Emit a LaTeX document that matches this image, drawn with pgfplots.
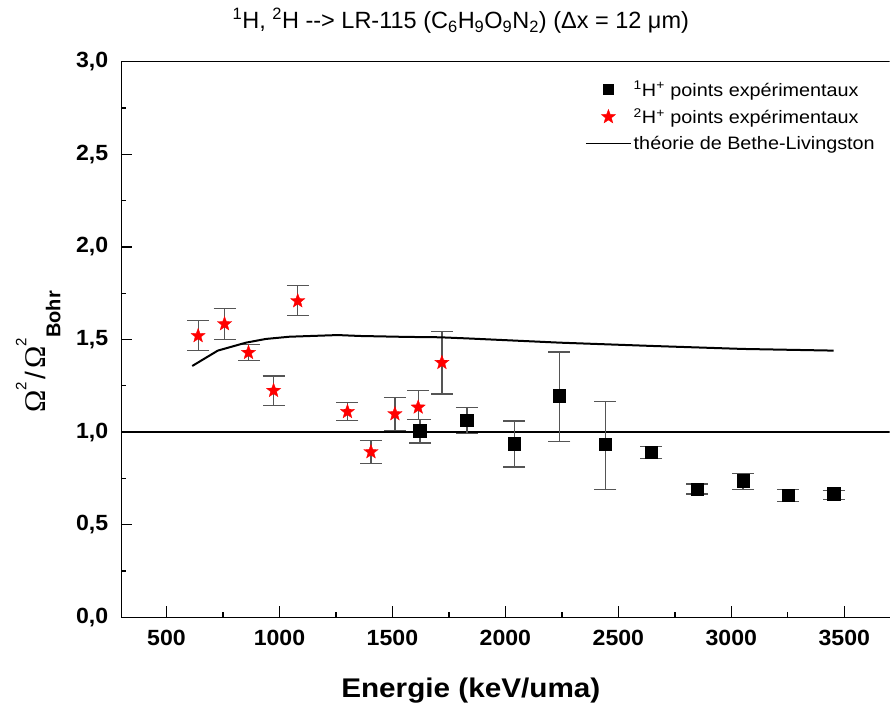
\documentclass[border=0pt]{standalone}
\usepackage{pgfplots}
\pgfplotsset{compat=1.18}
\usepackage{pgfplotstable}
\usepackage{fontspec}
\setmainfont{Liberation Sans}
\newfontfamily\omegafont{Liberation Serif}

\pgfplotstableread{
x y ep em
1622 1.008 0.061 0.067
1830 1.065 0.067 0.072
2039 0.939 0.121 0.127
2239 1.195 0.237 0.245
2442 0.934 0.230 0.243
2645 0.891 0.032 0.033
2849 0.691 0.029 0.025
3052 0.738 0.037 0.047
3251 0.659 0.032 0.035
3453 0.666 0.020 0.031
}\protons

\pgfplotstableread{
x y ep em
640 1.520 0.084 0.080
757 1.584 0.082 0.085
863 1.429 0.043 0.041
974 1.224 0.079 0.081
1081 1.708 0.082 0.077
1301 1.110 0.049 0.046
1405 0.893 0.063 0.061
1511 1.098 0.088 0.090
1614 1.134 0.092 0.065
1719 1.375 0.167 0.169
}\deutons

\pgfplotstableread{
x y
614 1.357
727 1.440
852 1.483
940 1.503
1044 1.515
1258 1.524
1357 1.519
1563 1.514
1709 1.512
1829 1.506
2240 1.483
2653 1.465
3052 1.449
3453 1.440
}\theory

\definecolor{errgray}{RGB}{85,85,85}

\pgfdeclareplotmark{fstar}{%
  \pgfpathmoveto{\pgfqpointpolar{90}{\pgfplotmarksize}}%
  \pgfpathlineto{\pgfqpointpolar{126}{0.42\pgfplotmarksize}}%
  \pgfpathlineto{\pgfqpointpolar{162}{\pgfplotmarksize}}%
  \pgfpathlineto{\pgfqpointpolar{198}{0.42\pgfplotmarksize}}%
  \pgfpathlineto{\pgfqpointpolar{234}{\pgfplotmarksize}}%
  \pgfpathlineto{\pgfqpointpolar{270}{0.42\pgfplotmarksize}}%
  \pgfpathlineto{\pgfqpointpolar{306}{\pgfplotmarksize}}%
  \pgfpathlineto{\pgfqpointpolar{342}{0.42\pgfplotmarksize}}%
  \pgfpathlineto{\pgfqpointpolar{18}{\pgfplotmarksize}}%
  \pgfpathlineto{\pgfqpointpolar{54}{0.42\pgfplotmarksize}}%
  \pgfpathclose
  \pgfusepathqfillstroke
}

\pgfplotsset{
  marklegend/.style={legend image code/.code={\draw[mark repeat=2,mark phase=2,##1] plot coordinates {(0pt,0pt) (22.5pt,0pt) (45pt,0pt)};}},
  sqlegend/.style={legend image code/.code={\draw[mark repeat=2,mark phase=2,##1, mark size=5pt] plot coordinates {(0pt,0pt) (22.5pt,0pt) (45pt,0pt)};}},
  linelegend/.style={legend image code/.code={\draw[##1, line width=1.2pt] (0pt,0pt) -- (45pt,0pt);}},
}

\newcommand{\Om}{{\omegafont\fontsize{30}{34}\selectfont Ω}}
\newcommand{\supt}{\raisebox{19pt}{\fontsize{15}{17}\selectfont 2}}

\begin{document}
\begin{tikzpicture}
\begin{axis}[
  scale only axis,
  width=768.2pt, height=555.6pt,
  xmin=300, xmax=3700, ymin=0, ymax=3,
  axis x line*=bottom, axis y line*=left,
  axis line style={line width=1.5pt},
  tick align=inside,
  major tick length=11pt, minor tick length=5pt,
  every tick/.style={black, line width=1.3pt},
  xtick={500,1000,...,3500},
  ytick={0,0.5,...,3},
  minor x tick num=1, minor y tick num=1,
  tick label style={font=\bfseries\fontsize{22}{25}\selectfont, xscale=1.05},
  /pgf/number format/assume math mode=true,
  x tick label style={/pgf/number format/1000 sep={}, yshift=-9pt},
  y tick label style={/pgf/number format/.cd, use comma, fixed, fixed zerofill, precision=1, /tikz/xshift=-9pt},
  xlabel={Energie (keV/uma)},
  xlabel style={font=\bfseries\fontsize{27}{30}\selectfont, xscale=1.1, at={(axis description cs:0.455,0)}, anchor=base, yshift=-80pt},
  ylabel={\Om\supt\hspace{3pt}{\fontsize{28}{30}\selectfont /}\hspace{3pt}\Om\supt\raisebox{-15pt}{\fontsize{20}{22}\selectfont\bfseries Bohr}},
  ylabel style={at={(axis description cs:-0.0989,0.4775)}, anchor=base},
  title={\textsuperscript{1}H, \textsuperscript{2}H -{}-{}> LR-115 (C\textsubscript{6}H\textsubscript{9}O\textsubscript{9}N\textsubscript{2}) (Δx = 12 μm)},
  title style={font=\fontsize{23.5}{26}\selectfont, at={(axis description cs:0.442,1)}, anchor=base, yshift=27.4pt},
  legend style={draw=none, fill=none, at={(axis description cs:0.984,0.969)}, anchor=north east,
    font=\fontsize{18}{21}\selectfont, row sep=7pt, inner sep=0pt,
    nodes={xscale=1.1}},
  legend cell align=left,
  clip=true,
]
\coordinate (O) at (rel axis cs:0,0);
\draw[line width=1.5pt] (rel axis cs:0,1) -- (rel axis cs:1,1);
\addplot[black, line width=1.5pt, forget plot] coordinates {(300,1) (3700,1)};

\addplot[only marks, mark=square*, mark size=6.3pt, black, sqlegend,
  error bars/.cd, y dir=both, y explicit,
  error bar style={errgray, line width=1.2pt},
  error mark options={rotate=90, mark size=11pt, errgray, line width=1.2pt}]
  table[x=x, y=y, y error plus=ep, y error minus=em] {\protons};
\addlegendentry{\textsuperscript{1}H\textsuperscript{+} points expérimentaux}

\addplot[only marks, mark=fstar, mark size=7.5pt, red, mark options={fill=red, draw=red, line width=0.3pt}, marklegend,
  error bars/.cd, y dir=both, y explicit,
  error bar style={errgray, line width=1.2pt},
  error mark options={rotate=90, mark size=11pt, errgray, line width=1.2pt}]
  table[x=x, y=y, y error plus=ep, y error minus=em] {\deutons};
\addlegendentry{\textsuperscript{2}H\textsuperscript{+} points expérimentaux}

\addplot[black, line width=2pt, no marks, linelegend]
  table[x=x, y=y] {\theory};
\addlegendentry{théorie de Bethe-Livingston}
\end{axis}
\pgfresetboundingbox
\path[use as bounding box] (O) ++(-121.3pt,-87.7pt) rectangle ++(892pt,705pt);
\end{tikzpicture}
\end{document}
